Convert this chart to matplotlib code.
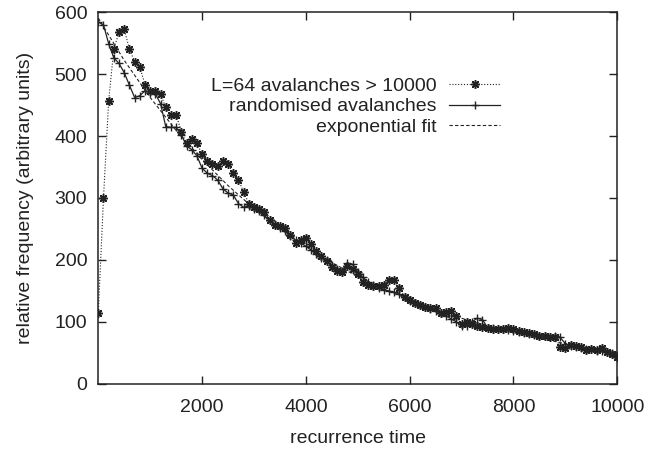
import matplotlib
matplotlib.use('Agg')
import matplotlib.pyplot as plt

# recurrence time bins (step 100)
times = list(range(0, 10001, 100))

# L=64 avalanches > 10000 (asterisks, dotted line)
large_aval = [115, 300, 457, 541, 567, 572, 540, 520, 511, 483,
              473, 472, 468, 446, 434, 434, 407, 388, 395, 388,
              371, 359, 355, 352, 359, 355, 340, 329, 310, 291,
              285, 282, 278, 265, 257, 255, 251, 240, 228, 233,
              235, 225, 214, 207, 198, 189, 183, 181, 190, 186,
              178, 165, 160, 158, 158, 160, 168, 168, 155, 141,
              136, 131, 127, 124, 123, 122, 114, 116, 117, 109,
              97, 100, 96, 94, 92, 90, 89, 88, 89, 90,
              88, 86, 84, 82, 80, 78, 77, 76, 75, 60,
              58, 63, 62, 60, 55, 57, 55, 58, 52, 49,
              44]

# randomised avalanches (plus signs, solid line)
random_aval = [584, 579, 549, 526, 517, 502, 482, 462, 465, 473,
               470, 468, 452, 415, 414, 414, 402, 384, 378, 368,
               348, 340, 336, 329, 315, 308, 305, 291, 285, 287,
               283, 279, 272, 264, 258, 252, 246, 238, 232, 228,
               222, 216, 210, 204, 200, 192, 186, 183, 195, 193,
               180, 172, 165, 160, 155, 152, 150, 148, 145, 140,
               134, 130, 128, 124, 121, 118, 114, 110, 105, 100,
               94, 93, 100, 106, 104, 91, 90, 89, 88, 87,
               86, 84, 82, 80, 79, 78, 77, 76, 77, 75,
               65, 61, 60, 58, 57, 56, 54, 53, 51, 50,
               46]

# exponential fit
fit_times = list(range(0, 10001, 500))
fit_vals = [590, 522, 462, 409, 362, 320, 283, 251, 222, 196,
            173, 153, 136, 120, 106, 94, 83, 74, 65, 58, 51]

plt.rcParams['font.family'] = ['Liberation Sans', 'DejaVu Sans']
plt.rcParams['font.size'] = 14

fig = plt.figure(figsize=(6.48, 4.5), dpi=100)
ax = fig.add_axes([0.1517, 0.1467, 0.8009, 0.8266])

star = (8, 2, 0)
ax.plot(times, large_aval, color='#222222', lw=0.8, linestyle=(0, (1, 1.6)),
        marker=star, markersize=6.2, markeredgewidth=1.1,
        label='L=64 avalanches > 10000')
ax.plot(times, random_aval, color='#222222', lw=0.9, linestyle='-',
        marker='+', markersize=6.2, markeredgewidth=1.0,
        label='randomised avalanches')
ax.plot(fit_times, fit_vals, color='#222222', lw=0.8, linestyle=(0, (3, 2)),
        label='exponential fit')

ax.set_xlim(0, 10000)
ax.set_ylim(0, 600)
ax.set_xticks([2000, 4000, 6000, 8000, 10000])
ax.set_yticks(range(0, 601, 100))
ax.tick_params(direction='in', length=6, width=1, top=True, right=True,
               labelsize=14, colors='#222222')
ax.tick_params(axis='x', pad=11)
ax.tick_params(axis='y', pad=8)
for s in ax.spines.values():
    s.set_linewidth(1.1)
    s.set_color('#222222')

ax.set_xlabel('recurrence time', fontsize=14, color='#222222', labelpad=10)
ax.set_ylabel('relative frequency (arbitrary units)', fontsize=14,
              color='#222222', labelpad=15)

leg = ax.legend(loc='upper right', bbox_to_anchor=(500 / 648, 1 - 77 / 450),
                bbox_transform=fig.transFigure, frameon=False,
                markerfirst=False, numpoints=1, handlelength=2.6,
                handletextpad=0.65, labelspacing=0.16, borderpad=0,
                borderaxespad=0, fontsize=14)
for t in leg.get_texts():
    t.set_color('#222222')

fig.savefig('out.png', dpi=100)
